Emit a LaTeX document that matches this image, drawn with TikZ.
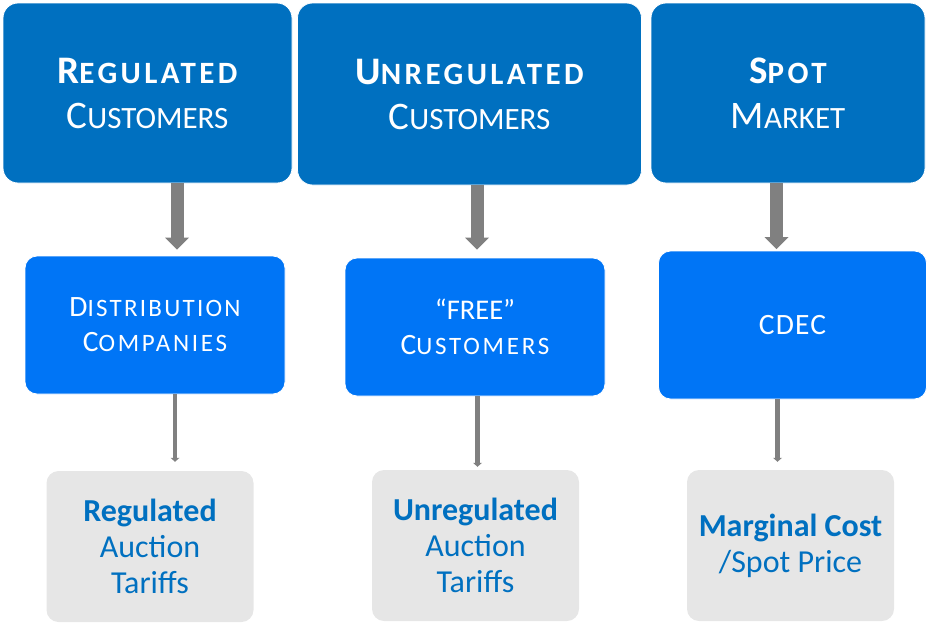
\documentclass[tikz,border=0pt]{standalone}
\usepackage{fontspec}
\setmainfont{Carlito}
\usetikzlibrary{arrows.meta}

\definecolor{topblue}{HTML}{0070C0}
\definecolor{midblue}{HTML}{0075F6}
\definecolor{tilegray}{HTML}{E6E6E6}
\definecolor{arrowgray}{HTML}{808080}

% hand-made small capitals: first letter full size, the rest smaller
\newcommand{\topsc}[2]{{\fontsize{39}{45}\selectfont #1}{\fontsize{31}{45}\selectfont #2}}
\newcommand{\midsc}[2]{{\fontsize{29.5}{35}\selectfont #1}{\fontsize{25}{35}\selectfont #2}}
% extra tracking between letters
\newcommand{\track}[1]{\addfontfeature{LetterSpace=#1}}

\tikzset{
  topbox/.style={rectangle, rounded corners=15pt, fill=topblue, draw=white, line width=0.8pt,
    text=white, align=center, inner sep=0pt, font=\fontsize{39}{45}\selectfont},
  midbox/.style={rectangle, rounded corners=12pt, fill=midblue, draw=white, line width=0.8pt,
    text=white, align=center, inner sep=0pt, font=\fontsize{29.5}{35}\selectfont},
  tile/.style={rectangle, rounded corners=12pt, fill=tilegray,
    text=topblue, align=center, inner sep=0pt, font=\fontsize{32}{36}\selectfont},
  bigarrow/.style={draw=arrowgray, line width=13pt,
    -{Triangle[width=24pt,length=12pt,line width=0pt]}},
  thinarrow/.style={draw=arrowgray, line width=4.5pt,
    -{Triangle[width=9pt,length=4pt,line width=0pt]}}
}

\begin{document}
\begin{tikzpicture}[x=1pt,y=-1pt]
  \useasboundingbox (0,0) rectangle (927,624);

  % first row
  \node[topbox, minimum width=289pt, minimum height=180pt] (t1) at (147.5,93)
    {{\bfseries\track{11}\topsc{R}{EGULATED}}\\\topsc{C}{USTOMERS}};
  \node[topbox, minimum width=344pt, minimum height=182pt] (t2) at (469.5,94)
    {{\bfseries\track{11}\topsc{U}{NREGULATED}}\\\topsc{C}{USTOMERS}};
  \node[topbox, minimum width=274pt, minimum height=180pt] (t3) at (788,93)
    {{\bfseries\track{11}\topsc{S}{POT}}\\\topsc{M}{ARKET}};

  % second row
  \node[midbox, minimum width=260pt, minimum height=138pt] (m1) at (155,325)
    {{\track{9}\midsc{D}{ISTRIBUTION}}\\{\track{11}\midsc{C}{OMPANIES}}};
  \node[midbox, minimum width=260pt, minimum height=138pt] (m2) at (475,327)
    {{\fontsize{28.5}{35}\selectfont “FREE”}\\{\track{11}\midsc{C}{USTOMERS}}};
  \node[midbox, minimum width=268pt, minimum height=148pt] (m3) at (792.5,325)
    {{\track{4}CDEC}};

  % third row
  \node[tile, minimum width=207pt, minimum height=151pt] (b1) at (150,546.5)
    {\textbf{Regulated}\\Auction\\Tariffs};
  \node[tile, minimum width=207pt, minimum height=151pt] (b2) at (475.5,545.5)
    {\textbf{Unregulated}\\Auction\\Tariffs};
  \node[tile, minimum width=207pt, minimum height=151pt] (b3) at (790.5,545.5)
    {\textbf{Marginal Cost}\\/Spot Price};

  % arrow columns
  \coordinate (c1) at (177,0);
  \coordinate (c2) at (477,0);
  \coordinate (c3) at (776.5,0);
  \coordinate (d1) at (175,0);
  \coordinate (d2) at (477.5,0);
  \coordinate (d3) at (777.5,0);

  \draw[bigarrow, shorten >=6pt] (t1.south -| c1) -- (m1.north -| c1);
  \draw[bigarrow, shorten >=8pt] (t2.south -| c2) -- (m2.north -| c2);
  \draw[bigarrow, shorten >=1.5pt] (t3.south -| c3) -- (m3.north -| c3);

  \draw[thinarrow, shorten >=9pt] (m1.south -| d1) -- (b1.north -| d1);
  \draw[thinarrow, shorten >=3pt] (m2.south -| d2) -- (b2.north -| d2);
  \draw[thinarrow, shorten >=8pt] (m3.south -| d3) -- (b3.north -| d3);
\end{tikzpicture}
\end{document}
